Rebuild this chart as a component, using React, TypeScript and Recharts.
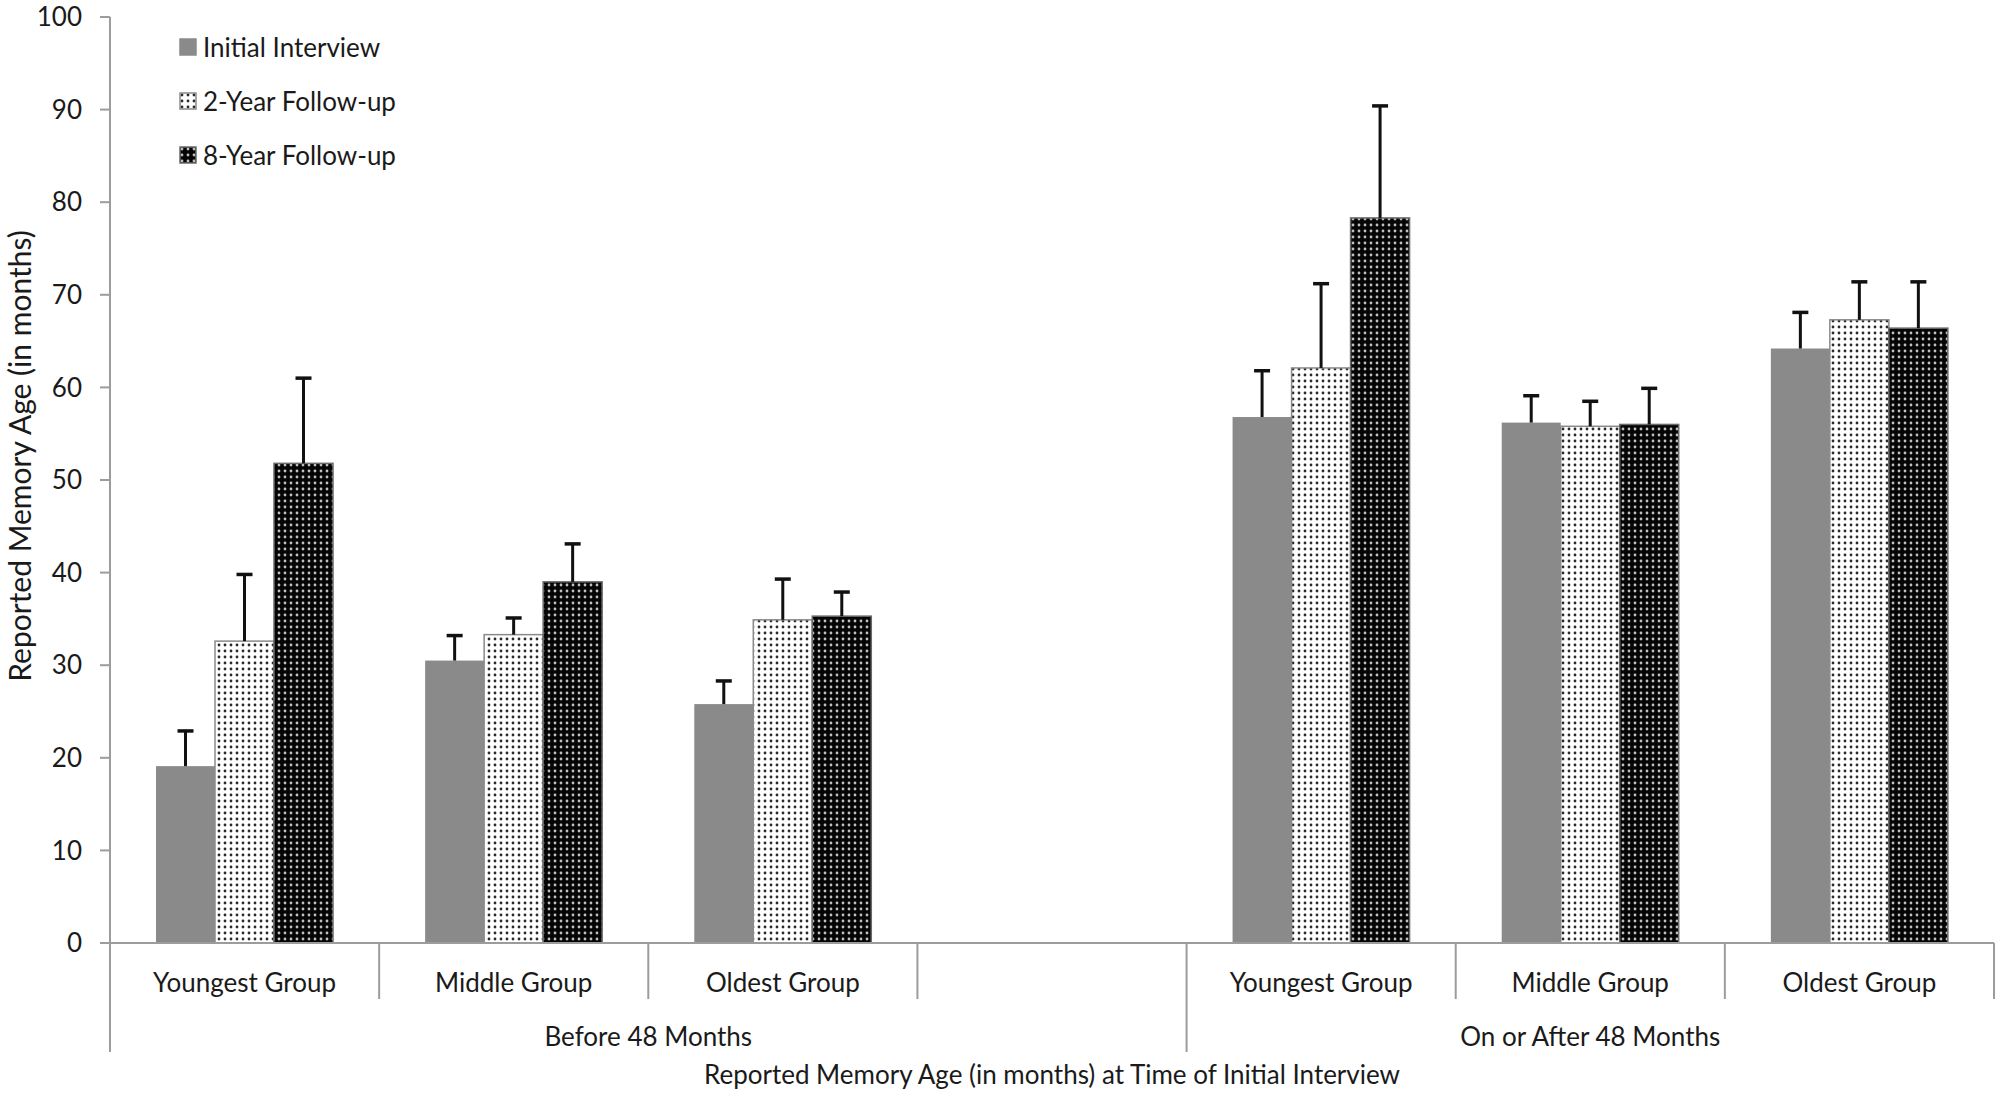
import { BarChart, Bar, XAxis, YAxis, Legend } from 'recharts'

const groups = ['Youngest Group', 'Middle Group', 'Oldest Group', '', 'Youngest Group', 'Middle Group', 'Oldest Group']
const keys = ['b-young', 'b-middle', 'b-oldest', 'gap', 'a-young', 'a-middle', 'a-oldest']
const initial = [19.1, 30.5, 25.8, null, 56.8, 56.2, 64.2]
const initialErrTop = [22.9, 33.2, 28.3, null, 61.8, 59.1, 68.1]
const twoYear = [32.6, 33.3, 34.9, null, 62.1, 55.8, 67.3]
const twoYearErrTop = [39.8, 35.1, 39.3, null, 71.2, 58.5, 71.4]
const eightYear = [51.8, 39.0, 35.3, null, 78.3, 56.0, 66.4]
const eightYearErrTop = [61.0, 43.1, 37.9, null, 90.4, 59.9, 71.4]
const yTicks = [0, 10, 20, 30, 40, 50, 60, 70, 80, 90, 100]
const periods = ['Before 48 Months', 'On or After 48 Months']

const data = keys.map((k, i) => ({
  key: k,
  initial: initial[i],
  initialErr: initialErrTop[i],
  twoYear: twoYear[i],
  twoYearErr: twoYearErrTop[i],
  eightYear: eightYear[i],
  eightYearErr: eightYearErrTop[i],
}))

const FONT = 'Lato, "Open Sans", sans-serif'
const FS = 26
const AXIS = '#9c9c9c'
const TEXT = '#1a1a1a'

const series = [
  { key: 'initial', err: 'initialErr', name: 'Initial Interview', fill: '#8a8a8a', stroke: 'none' },
  { key: 'twoYear', err: 'twoYearErr', name: '2-Year Follow-up', fill: 'url(#dotsLight)', stroke: '#8a8a8a' },
  { key: 'eightYear', err: 'eightYearErr', name: '8-Year Follow-up', fill: 'url(#dotsDark)', stroke: '#6a6a6a' },
]

// bar + upper whisker only (no cap at the bar top)
const makeShape = (errKey) => (props) => {
  const { x, y, width, height, fill, stroke, payload, value } = props
  const v = Array.isArray(value) ? value[1] - value[0] : value
  if (v == null || !height) return null
  const perUnit = height / v
  const errY = y + height - payload[errKey] * perUnit
  const cx = x + width / 2
  return (
    <g>
      <rect x={x} y={y} width={width} height={height} fill={fill} stroke={stroke} strokeWidth={1.5} />
      <line x1={cx} y1={y} x2={cx} y2={errY} stroke="#111" strokeWidth={3} />
      <line x1={cx - 8} y1={errY} x2={cx + 8} y2={errY} stroke="#111" strokeWidth={3.5} />
    </g>
  )
}

const GroupTick = (props) => {
  const { x, y, payload } = props
  const i = payload.index
  const off = payload.offset || 134.5
  const tall = i === 0 || i === 4
  return (
    <g>
      <line x1={x - off} y1={y} x2={x - off} y2={y + (tall ? 109 : 56)} stroke={AXIS} strokeWidth={2} />
      {i === keys.length - 1 && (
        <line x1={x + off} y1={y} x2={x + off} y2={y + 56} stroke={AXIS} strokeWidth={2} />
      )}
      <text x={x} y={y + 39} textAnchor="middle" dominantBaseline="central" fontSize={FS} fontFamily={FONT} fill={TEXT}>
        {groups[i]}
      </text>
      {i === 1 && (
        <text x={x + off} y={y + 93} textAnchor="middle" dominantBaseline="central" fontSize={FS} fontFamily={FONT} fill={TEXT}>
          {periods[0]}
        </text>
      )}
      {i === 5 && (
        <text x={x} y={y + 93} textAnchor="middle" dominantBaseline="central" fontSize={FS} fontFamily={FONT} fill={TEXT}>
          {periods[1]}
        </text>
      )}
    </g>
  )
}

const YLabel = (props) => {
  const { viewBox } = props
  const cx = 19
  const cy = viewBox.y + viewBox.height / 2 - 24
  return (
    <text
      x={cx}
      y={cy}
      transform={`rotate(-90 ${cx} ${cy})`}
      textAnchor="middle"
      dominantBaseline="central"
      fontSize={30}
      fontFamily={FONT}
      fill={TEXT}
    >
      Reported Memory Age (in months)
    </text>
  )
}

const LegendBox = () => (
  <div style={{ fontFamily: FONT, fontSize: FS, color: TEXT }}>
    {series.map((s) => (
      <div key={s.key} style={{ display: 'flex', alignItems: 'center', height: 54 }}>
        <svg width={18} height={18} style={{ marginRight: 6 }}>
          <rect x={1} y={1} width={16} height={16} fill={s.fill} stroke={s.stroke === 'none' ? s.fill : s.stroke} strokeWidth={1.5} />
        </svg>
        <span>{s.name}</span>
      </div>
    ))}
  </div>
)

export default function App() {
  return (
    <div style={{ position: 'absolute', left: 0, top: 0, background: '#fff' }}>
      <BarChart
        width={2000}
        height={1096}
        data={data}
        margin={{ top: 17, right: 6, left: 0, bottom: 0 }}
        barGap={0}
        barSize={59}
      >
        <defs>
          <pattern id="dotsLight" width={6} height={6} patternUnits="userSpaceOnUse">
            <rect width={6} height={6} fill="#fff" />
            <circle cx={3} cy={3} r={1.4} fill="#2a2a2a" />
          </pattern>
          <pattern id="dotsDark" width={6} height={6} patternUnits="userSpaceOnUse">
            <rect width={6} height={6} fill="#050505" />
            <circle cx={3} cy={3} r={1.4} fill="#c0c0c0" />
          </pattern>
        </defs>
        <XAxis
          dataKey="key"
          height={153}
          tickLine={false}
          tickSize={0}
          tickMargin={0}
          interval={0}
          axisLine={{ stroke: AXIS, strokeWidth: 2 }}
          tick={<GroupTick />}
          label={{
            value: 'Reported Memory Age (in months) at Time of Initial Interview',
            position: 'insideBottom',
            offset: 12,
            fontSize: FS,
            fontFamily: FONT,
            fill: TEXT,
          }}
        />
        <YAxis
          width={110}
          domain={[0, 100]}
          ticks={yTicks}
          interval={0}
          tickSize={10}
          tickMargin={18}
          axisLine={{ stroke: AXIS, strokeWidth: 2 }}
          tickLine={{ stroke: AXIS, strokeWidth: 2 }}
          tick={{ fontSize: FS, fontFamily: FONT, fill: TEXT }}
          label={<YLabel />}
        />
        <Legend
          layout="vertical"
          align="center"
          verticalAlign="middle"
          content={<LegendBox />}
          wrapperStyle={{ left: 179, top: 20, width: 340 }}
        />
        {series.map((s) => (
          <Bar
            key={s.key}
            dataKey={s.key}
            name={s.name}
            fill={s.fill}
            stroke={s.stroke}
            isAnimationActive={false}
            shape={makeShape(s.err)}
          />
        ))}
      </BarChart>
    </div>
  )
}
